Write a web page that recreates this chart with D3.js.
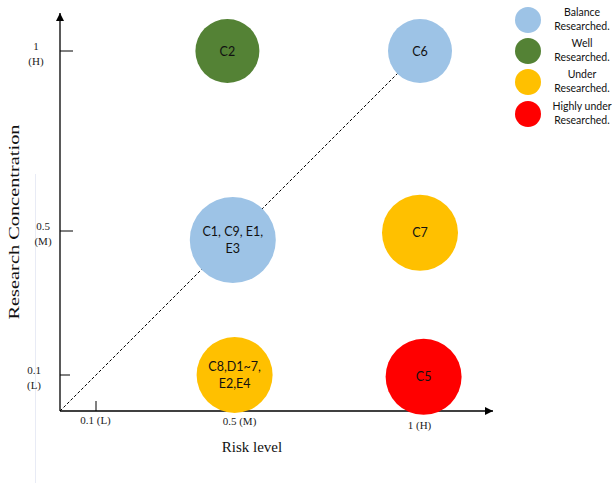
<!DOCTYPE html>
<html><head><meta charset="utf-8">
<script src="https://cdn.jsdelivr.net/npm/d3@7"></script>
<style>body{margin:0;background:#fff}svg{display:block}</style>
</head><body>
<script>
// Data
const bubbleLabels = [["C2"],["C6"],["C1, C9, E1,","E3"],["C7"],["C8,D1~7,","E2,E4"],["C5"]];
const riskValues = [0.465, 1.0, 0.48, 1.0, 0.485, 1.01];
const concValues = [1.0, 1.0, 0.475, 0.495, 0.1, 0.095];
const bubbleSizes = [32, 32, 43, 38, 38, 38];
const bubbleClass = ["Well","Balance","Balance","Under","Under","Highly"];
const xTickValues = [0.1, 0.5, 1];
const xTickLabels = ["0.1 (L)", "0.5 (M)", "1 (H)"];
const yTickValues = [1, 0.5, 0.1];
const yTickLabels = [["1","(H)"],["0.5","(M)"],["0.1","(L)"]];
const legendKeys = ["Balance","Well","Under","Highly"];
const legendLabels = [["Balance","Researched."],["Well","Researched."],["Under","Researched."],["Highly under","Researched."]];
const colorMap = {Balance:"#9DC3E6", Well:"#548235", Under:"#FFC000", Highly:"#FF0000"};

const W = 612, H = 483;
const svg = d3.select("body").append("svg").attr("width", W).attr("height", H);
const x = d3.scaleLinear().domain([0,1]).range([60,420]);
const y = d3.scaleLinear().domain([0,1]).range([411,51]);

// faint vertical line
svg.append("line").attr("x1",35.5).attr("x2",35.5).attr("y1",174).attr("y2",483)
  .attr("stroke","#e8ebf5").attr("stroke-width",1);

const defs = svg.append("defs");
defs.append("marker").attr("id","arr").attr("viewBox","0 0 10 10").attr("refX",10).attr("refY",5)
  .attr("markerWidth",8).attr("markerHeight",8).attr("markerUnits","userSpaceOnUse").attr("orient","auto")
  .append("path").attr("d","M0,0L10,5L0,10z").attr("fill","#000");

// axes
svg.append("line").attr("x1",x(0)).attr("y1",y(0)).attr("x2",x(0)).attr("y2",13)
  .attr("stroke","#000").attr("stroke-width",1.3).attr("marker-end","url(#arr)");
svg.append("line").attr("x1",x(0)).attr("y1",y(0)).attr("x2",493).attr("y2",y(0))
  .attr("stroke","#000").attr("stroke-width",1.3).attr("marker-end","url(#arr)");

// x ticks
svg.append("line").attr("x1",x(0.1)).attr("x2",x(0.1)).attr("y1",y(0)).attr("y2",y(0)-10)
  .attr("stroke","#000").attr("stroke-width",1);
const xLabY = [424, 425, 429];
xTickValues.forEach((v,i)=>{
  svg.append("text").attr("x",x(v)-0.5).attr("y",xLabY[i]).attr("text-anchor","middle")
    .attr("font-family","Liberation Serif, serif").attr("font-size",11).attr("fill","#222").text(xTickLabels[i]);
});
// y ticks
const yTickLen = [13, 13, 10];
const yLabX = [36, 43, 34];
yTickValues.forEach((v,i)=>{
  svg.append("line").attr("x1",x(0)).attr("x2",x(0)+yTickLen[i]).attr("y1",y(v)).attr("y2",y(v))
    .attr("stroke","#000").attr("stroke-width",1);
  const t = svg.append("text").attr("text-anchor","middle")
    .attr("font-family","Liberation Serif, serif").attr("font-size",11).attr("fill","#222");
  t.append("tspan").attr("x",yLabX[i]).attr("y",y(v)-1).text(yTickLabels[i][0]);
  t.append("tspan").attr("x",yLabX[i]).attr("y",y(v)+14).text(yTickLabels[i][1]);
});

// axis titles
svg.append("text").attr("x",252).attr("y",452).attr("text-anchor","middle")
  .attr("font-family","Liberation Serif, serif").attr("font-size",15).attr("fill","#111").text("Risk level");
svg.append("text").attr("transform","translate(19,222) rotate(-90)").attr("text-anchor","middle")
  .attr("font-family","Liberation Serif, serif").attr("font-size",15).attr("fill","#111")
  .attr("textLength",195).attr("lengthAdjust","spacingAndGlyphs").text("Research Concentration");

// dashed diagonal
svg.append("line").attr("x1",x(0)).attr("y1",y(0)).attr("x2",x(1)).attr("y2",y(1))
  .attr("stroke","#000").attr("stroke-width",1).attr("stroke-dasharray","3,2");

// bubbles
const data = bubbleLabels.map((l,i)=>({l, xv:riskValues[i], yv:concValues[i], r:bubbleSizes[i], c:colorMap[bubbleClass[i]]}));
const g = svg.selectAll("g.b").data(data).enter().append("g").attr("class","b");
g.append("circle").attr("cx",d=>x(d.xv)).attr("cy",d=>y(d.yv)).attr("r",d=>d.r).attr("fill",d=>d.c);
g.each(function(d){
  const t = d3.select(this).append("text").attr("text-anchor","middle")
    .attr("font-family","Lato, Open Sans, sans-serif").attr("font-size",12.5).attr("fill","#111");
  const n = d.l.length;
  d.l.forEach((s,k)=>{
    t.append("tspan").attr("x",x(d.xv)).attr("y",y(d.yv)+4.5+(k-(n-1)/2)*17).text(s);
  });
});

// legend
const legY = [20, 51, 82, 114];
legendKeys.forEach((k,i)=>{
  svg.append("circle").attr("cx",528).attr("cy",legY[i]).attr("r",13).attr("fill",colorMap[k]);
  const t = svg.append("text").attr("text-anchor","middle")
    .attr("font-family","Lato, Open Sans, sans-serif").attr("font-size",10.5).attr("fill","#111");
  t.append("tspan").attr("x",582).attr("y",legY[i]-4).text(legendLabels[i][0]);
  t.append("tspan").attr("x",582).attr("y",legY[i]+10).text(legendLabels[i][1]);
});
</script>
</body></html>
